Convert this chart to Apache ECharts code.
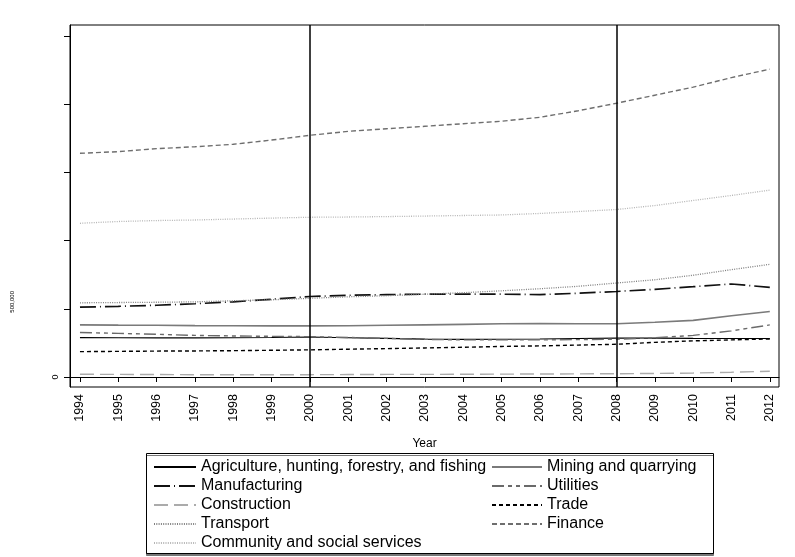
<!DOCTYPE html>
<html>
<head>
<meta charset="utf-8">
<script src="https://cdn.jsdelivr.net/npm/echarts@6/dist/echarts.min.js"></script>
<style>
html,body{margin:0;padding:0;background:#fff;}
#chart{width:795px;height:557px;}
</style>
</head>
<body>
<div id="chart"></div>
<script>
const years = [1994,1995,1996,1997,1998,1999,2000,2001,2002,2003,2004,2005,2006,2007,2008,2009,2010,2011,2012];
const yTicks = [0,500000,1000000,1500000,2000000,2500000];
const yLabels = [0];
const vLines = [2000, 2008];

const agriculture = [289000,288000,287000,287000,288000,290000,293000,288000,283000,278000,276000,277000,279000,282000,285000,285000,283000,282000,282000];
const mining = [382000,380000,379000,377000,376000,375000,375000,376000,379000,382000,386000,390000,391000,390000,390000,401000,415000,449000,480000];
const manufacturing = [512000,518000,526000,537000,551000,570000,590000,599000,604000,607000,608000,607000,604000,614000,627000,643000,662000,682000,657000];
const utilities = [326000,320000,313000,305000,301000,298000,296000,290000,283000,276000,272000,272000,272000,274000,277000,287000,305000,338000,382000];
const construction = [20000,19000,18000,17000,17000,17000,17000,18000,19000,19000,20000,21000,22000,23000,24000,26000,29000,35000,42000];
const trade = [186000,188000,190000,191000,193000,196000,199000,204000,208000,213000,218000,224000,228000,234000,240000,254000,265000,272000,279000];
const transport = [544000,546000,548000,551000,559000,566000,577000,588000,596000,607000,618000,632000,647000,665000,689000,713000,746000,787000,826000];
const finance = [1640000,1652000,1674000,1688000,1706000,1737000,1772000,1801000,1820000,1838000,1857000,1875000,1904000,1952000,2007000,2066000,2125000,2195000,2257000];
const community = [1127000,1140000,1147000,1151000,1158000,1165000,1171000,1173000,1176000,1180000,1184000,1188000,1199000,1213000,1228000,1257000,1294000,1331000,1370000];

const names = {
  agriculture: 'Agriculture, hunting, forestry, and fishing',
  mining: 'Mining and quarrying',
  manufacturing: 'Manufacturing',
  utilities: 'Utilities',
  construction: 'Construction',
  trade: 'Trade',
  transport: 'Transport',
  finance: 'Finance',
  community: 'Community and social services'
};

const FONT = 'Liberation Sans, Arial, Helvetica, sans-serif';
const pair = arr => years.map((y, i) => [y, arr[i]]);

function mk(name, data, color, width, type) {
  return {
    name: name, type: 'line', data: pair(data), symbol: 'none', showSymbol: false,
    lineStyle: {color: color, width: width, type: type},
    itemStyle: {color: color},
    silent: true, z: 3
  };
}

const series = [
  mk(names.agriculture, agriculture, '#000000', 1.1, 'solid'),
  mk(names.mining, mining, '#7a7a7a', 1.6, 'solid'),
  mk(names.manufacturing, manufacturing, '#111111', 1.7, [16, 4, 1, 4]),
  mk(names.utilities, utilities, '#6a6a6a', 1.4, [12, 4, 4, 4, 4, 4]),
  mk(names.construction, construction, '#ababab', 1.4, [14, 6]),
  mk(names.trade, trade, '#000000', 1.4, [4, 3]),
  mk(names.transport, transport, '#808080', 1.3, [1, 1.3]),
  mk(names.finance, finance, '#6e6e6e', 1.4, [5, 3]),
  mk(names.community, community, '#b5b5b5', 1.3, [1, 1.3])
];
series[0].markLine = {
  symbol: 'none', silent: true, label: {show: false},
  lineStyle: {color: '#000', width: 1.5, type: 'solid'},
  data: vLines.map(v => ({xAxis: v})),
  animation: false
};

const legendText = {color: '#000', fontSize: 16, lineHeight: 16, fontFamily: FONT};
const legendCommon = {
  orient: 'vertical', top: 459, height: 98, itemHeight: 14, itemGap: 3,
  textStyle: legendText, selectedMode: false, padding: 0,
  itemStyle: {opacity: 0, borderWidth: 0}
};
const chart = echarts.init(document.getElementById('chart'), null, {renderer: 'canvas'});
chart.setOption({
  animation: false,
  backgroundColor: '#fff',
  textStyle: {fontFamily: FONT},
  grid: {left: 70, right: 16, top: 25, bottom: 170, show: true, borderColor: '#000', borderWidth: 1, backgroundColor: 'transparent'},
  xAxis: {
    type: 'value', min: 1993.74, max: 2012.24,
    name: 'Year', nameLocation: 'middle', nameGap: 51,
    nameTextStyle: {color: '#000', fontSize: 12, fontFamily: FONT},
    axisLine: {show: true, lineStyle: {color: '#000', width: 1}},
    axisTick: {show: true, length: 5, lineStyle: {color: '#000'}, customValues: years},
    axisLabel: {show: true, rotate: 90, margin: 7, color: '#000', fontSize: 12.5, fontFamily: FONT, customValues: years, formatter: v => String(v)},
    splitLine: {show: false}
  },
  yAxis: {
    type: 'value', min: -73300, max: 2580600,
    axisLine: {show: true, lineStyle: {color: '#000', width: 1}},
    axisTick: {show: true, length: 6, lineStyle: {color: '#000'}, customValues: yTicks},
    axisLabel: {show: true, rotate: 90, margin: 10, color: '#000', fontSize: 9, fontFamily: FONT, customValues: yLabels, formatter: v => String(v)},
    splitLine: {show: false}
  },
  legend: [
    Object.assign({}, legendCommon, {
      data: [names.agriculture, names.manufacturing, names.construction, names.transport, names.community],
      left: 153, itemWidth: 42
    }),
    Object.assign({}, legendCommon, {
      data: [names.mining, names.utilities, names.trade, names.finance],
      left: 491, itemWidth: 50
    })
  ],
  graphic: [
    {
      type: 'rect', left: 146, top: 453, z: -1, silent: true,
      shape: {width: 567, height: 100},
      style: {fill: '#fff', stroke: '#000', lineWidth: 1, shadowColor: '#777', shadowOffsetY: 2, shadowOffsetX: 0, shadowBlur: 0}
    },
    {
      type: 'text', left: 9, top: 291, rotation: Math.PI / 2, silent: true,
      style: {text: '500,000', fontSize: 6, fontFamily: FONT, fill: '#000'}
    }
  ],
  series: series
});
</script>
</body>
</html>
